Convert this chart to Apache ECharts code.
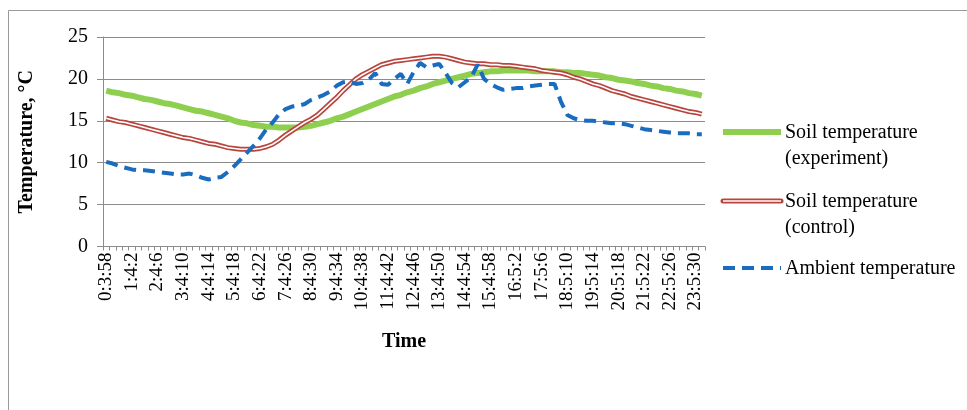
<!DOCTYPE html>
<html>
<head>
<meta charset="utf-8">
<script src="https://cdn.jsdelivr.net/npm/echarts/dist/echarts.min.js"></script>
<style>
  html, body { margin: 0; padding: 0; background: #fff; }
  #chart { width: 967px; height: 410px; }
</style>
</head>
<body>
<div id="chart"></div>
<script>
// time stamps: start 0:3:58, one reading every 15 min 1 s
var startSec = 3 * 60 + 58;
var stepSec = 15 * 60 + 1;
var pointCount = 94;
var times = [];
for (var i = 0; i < pointCount; i++) {
  var t = startSec + i * stepSec;
  times.push(Math.floor(t / 3600) + ':' + Math.floor((t % 3600) / 60) + ':' + (t % 60));
}

// soil temperature, experiment (green)
var soilExperiment = [
  18.6, 18.4, 18.3, 18.1, 18.0, 17.8, 17.6, 17.5, 17.3, 17.1, 17.0, 16.8,
  16.6, 16.4, 16.2, 16.1, 15.9, 15.7, 15.5, 15.3, 15.0, 14.8, 14.7, 14.5,
  14.4, 14.3, 14.3, 14.2, 14.2, 14.2, 14.2, 14.3, 14.4, 14.6, 14.8, 15.0,
  15.3, 15.5, 15.8, 16.1, 16.4, 16.7, 17.0, 17.3, 17.6, 17.9, 18.1, 18.4,
  18.6, 18.9, 19.1, 19.4, 19.6, 19.8, 20.0, 20.2, 20.4, 20.6, 20.7, 20.8,
  20.9, 20.9, 21.0, 21.0, 21.0, 21.0, 21.0, 20.9, 20.9, 20.9, 20.9, 20.8,
  20.8, 20.7, 20.7, 20.6, 20.5, 20.4, 20.2, 20.1, 19.9, 19.8, 19.7, 19.5,
  19.4, 19.2, 19.1, 18.9, 18.8, 18.6, 18.5, 18.3, 18.2, 18.0
];

// soil temperature, control (red double line)
var soilControl = [
  15.3, 15.1, 14.9, 14.8, 14.6, 14.4, 14.2, 14.0, 13.8, 13.6, 13.4, 13.2,
  13.0, 12.9, 12.7, 12.5, 12.3, 12.2, 12.0, 11.8, 11.7, 11.6, 11.6, 11.6,
  11.7, 11.9, 12.2, 12.7, 13.3, 13.8, 14.3, 14.8, 15.2, 15.7, 16.4, 17.1,
  17.8, 18.6, 19.3, 20.0, 20.5, 20.9, 21.3, 21.7, 21.9, 22.1, 22.2, 22.3,
  22.4, 22.5, 22.6, 22.7, 22.7, 22.6, 22.4, 22.2, 22.0, 21.9, 21.8, 21.8,
  21.7, 21.7, 21.6, 21.6, 21.5, 21.4, 21.3, 21.2, 21.0, 20.9, 20.8, 20.7,
  20.5, 20.2, 20.0, 19.7, 19.4, 19.2, 18.9, 18.6, 18.4, 18.2, 17.9, 17.7,
  17.5, 17.3, 17.1, 16.9, 16.7, 16.5, 16.3, 16.1, 16.0, 15.8
];

// ambient temperature (blue dashed)
var ambient = [
  10.1, 9.9, 9.6, 9.4, 9.2, 9.1, 9.1, 9.0, 8.9, 8.8, 8.7, 8.6,
  8.6, 8.7, 8.5, 8.2, 8.0, 8.2, 8.3, 8.9, 9.6, 10.4, 11.2, 12.0,
  12.9, 14.0, 14.8, 15.8, 16.4, 16.7, 16.8, 17.0, 17.5, 17.8, 18.1, 18.5,
  19.2, 19.6, 19.7, 19.4, 19.5, 19.9, 20.7, 19.4, 19.3, 20.0, 20.6, 19.4,
  20.8, 21.9, 21.4, 21.6, 21.8, 20.7, 19.5, 19.0, 19.6, 20.2, 21.7, 20.0,
  19.4, 19.0, 18.7, 18.8, 18.9, 18.9, 19.1, 19.2, 19.3, 19.4, 19.4, 17.3,
  15.7, 15.3, 15.1, 15.0, 15.0, 14.9, 14.8, 14.7, 14.7, 14.6, 14.4, 14.2,
  14.0, 13.9, 13.8, 13.7, 13.6, 13.5, 13.5, 13.5, 13.4, 13.4
];

var legendNames = ['Soil temperature\n(experiment)', 'Soil temperature\n(control)', 'Ambient temperature'];

var serif = '"Liberation Serif", "Times New Roman", serif';
var gray = '#8c8c8c';
var green = '#8fcf4f';
var red = '#b8453d';
var blue = '#1a6cbf';

var myChart = echarts.init(document.getElementById('chart'));

var option = {
  animation: false,
  backgroundColor: '#fff',
  grid: { left: 103, right: 262, top: 37, bottom: 163.5 },
  xAxis: {
    type: 'category',
    data: times,
    boundaryGap: true,
    name: 'Time',
    nameLocation: 'middle',
    nameGap: 85,
    nameTextStyle: { fontFamily: serif, fontSize: 20, fontWeight: 'bold', color: '#000' },
    axisLine: { lineStyle: { color: gray, width: 1 } },
    axisTick: { show: true, interval: 0, length: 4, lineStyle: { color: gray } },
    axisLabel: {
      interval: 3,
      rotate: 90,
      margin: 6,
      fontFamily: serif,
      fontSize: 19,
      color: '#000'
    },
    splitLine: { show: false }
  },
  yAxis: {
    type: 'value',
    min: 0,
    max: 25,
    interval: 5,
    name: 'Temperature, °C',
    nameLocation: 'middle',
    nameRotate: 90,
    nameGap: 66,
    nameTextStyle: { fontFamily: serif, fontSize: 20, fontWeight: 'bold', color: '#000' },
    axisLine: { show: true, lineStyle: { color: gray, width: 1 } },
    axisTick: { show: true, length: 6, lineStyle: { color: gray } },
    axisLabel: { margin: 15, fontFamily: serif, fontSize: 20, color: '#000' },
    splitLine: { show: true, lineStyle: { color: gray, width: 1 } }
  },
  series: [
    {
      name: legendNames[0],
      type: 'line',
      data: soilExperiment,
      symbol: 'none',
      lineStyle: { color: green, width: 6 }
    },
    {
      name: legendNames[1],
      type: 'line',
      data: soilControl,
      symbol: 'none',
      lineStyle: { color: red, width: 5 }
    },
    {
      name: 'control-inner',
      type: 'line',
      data: soilControl,
      symbol: 'none',
      silent: true,
      lineStyle: { color: '#fff', width: 1.6 }
    },
    {
      name: legendNames[2],
      type: 'line',
      data: ambient,
      symbol: 'none',
      lineStyle: { color: blue, width: 4, type: [12, 7] }
    }
  ],
  graphic: [
    // outer frame of the figure
    {
      type: 'rect',
      silent: true,
      shape: { x: 8.5, y: 10.5, width: 1000, height: 500 },
      style: { fill: 'none', stroke: '#9a9a9a', lineWidth: 1 }
    },
    // legend
    {
      type: 'line', shape: { x1: 723, y1: 132, x2: 781, y2: 132 },
      style: { stroke: green, lineWidth: 6 }
    },
    {
      type: 'text', left: 785, top: 120,
      style: { text: legendNames[0], font: '20px ' + serif, fill: '#000', lineHeight: 26 }
    },
    {
      type: 'line', shape: { x1: 723, y1: 201, x2: 781, y2: 201 },
      style: { stroke: red, lineWidth: 5, lineCap: 'round' }
    },
    {
      type: 'line', shape: { x1: 723, y1: 201, x2: 781, y2: 201 },
      style: { stroke: '#fff', lineWidth: 1.6 }
    },
    {
      type: 'text', left: 785, top: 189,
      style: { text: legendNames[1], font: '20px ' + serif, fill: '#000', lineHeight: 26 }
    },
    {
      type: 'line', shape: { x1: 723, y1: 268, x2: 781, y2: 268 },
      style: { stroke: blue, lineWidth: 4, lineDash: [12, 7] }
    },
    {
      type: 'text', left: 785, top: 256,
      style: { text: legendNames[2], font: '20px ' + serif, fill: '#000', lineHeight: 26 }
    }
  ]
};

myChart.setOption(option);
</script>
</body>
</html>
